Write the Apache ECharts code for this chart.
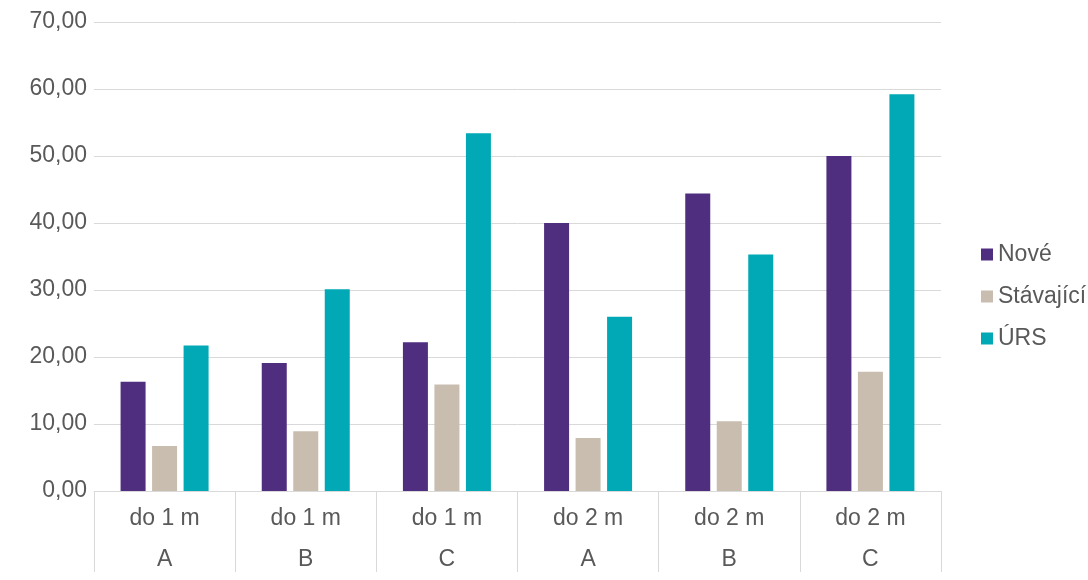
<!DOCTYPE html>
<html>
<head>
<meta charset="utf-8">
<script src="https://cdn.jsdelivr.net/npm/echarts@6/dist/echarts.min.js"></script>
<style>html,body{margin:0;padding:0;background:#fff;overflow:hidden}#c{width:1088px;height:580px}</style>
</head>
<body>
<div id="c"></div>
<script>
const level1 = ['do 1 m','do 1 m','do 1 m','do 2 m','do 2 m','do 2 m'];
const level2 = ['A','B','C','A','B','C'];
const seriesNames = ['Nové','Stávající','ÚRS'];
const nove = [16.3, 19.1, 22.2, 40.0, 44.4, 50.0];
const stavajici = [6.7, 8.9, 15.9, 7.9, 10.4, 17.8];
const urs = [21.7, 30.1, 53.4, 26.0, 35.3, 59.2];
const yTicks = [0, 10, 20, 30, 40, 50, 60, 70];

const colors = ['#4F2D7F', '#C8BDAF', '#00A9B5'];
const font = '"Liberation Sans", Arial, sans-serif';
const textColor = '#595959';
const gridColor = '#D9D9D9';

const chart = echarts.init(document.getElementById('c'), null, {renderer: 'canvas'});
const cats = level1.map((v, i) => i);
chart.setOption({
  animation: false,
  color: colors,
  textStyle: {fontFamily: font},
  grid: {left: 94, right: 147, top: 22, bottom: 81, containLabel: false},
  legend: {
    orient: 'vertical',
    left: 981,
    top: 243,
    icon: 'rect',
    itemWidth: 12,
    itemHeight: 12,
    itemGap: 19,
    itemTextGap: 5,
    padding: 0,
    textStyle: {fontSize: 23, color: textColor, fontFamily: font, lineHeight: 22},
    data: seriesNames
  },
  xAxis: {
    type: 'category',
    data: cats,
    boundaryGap: true,
    axisLine: {show: true, lineStyle: {color: gridColor, width: 1}},
    axisTick: {show: true, interval: 0, length: 81, lineStyle: {color: gridColor, width: 1}},
    axisLabel: {
      interval: 0,
      margin: 7,
      fontSize: 23,
      lineHeight: 41,
      color: textColor,
      fontFamily: font,
      formatter: (v, i) => level1[i] + '\n' + level2[i]
    }
  },
  yAxis: {
    type: 'value',
    min: yTicks[0],
    max: yTicks[yTicks.length - 1],
    interval: 10,
    axisLine: {show: false},
    axisTick: {show: false},
    splitLine: {lineStyle: {color: gridColor, width: 1}},
    axisLabel: {
      fontSize: 23,
      margin: 7,
      color: textColor,
      fontFamily: font,
      formatter: v => v.toFixed(2).replace('.', ',')
    }
  },
  series: [
    {name: seriesNames[0], type: 'bar', data: nove, barWidth: 25, barGap: '26%'},
    {name: seriesNames[1], type: 'bar', data: stavajici, barWidth: 25, barGap: '26%'},
    {name: seriesNames[2], type: 'bar', data: urs, barWidth: 25, barGap: '26%'}
  ]
});
</script>
</body>
</html>
